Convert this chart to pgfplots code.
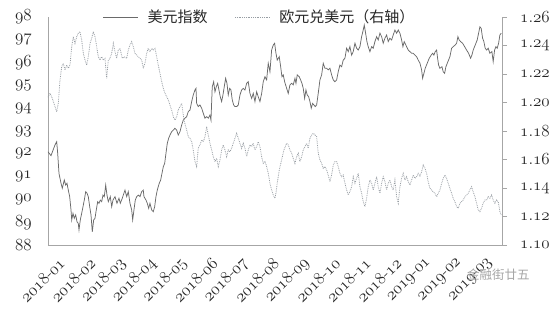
\RequirePackage{fix-cm}
\documentclass[border=0pt]{standalone}
\usepackage{pgfplots}
\pgfplotsset{compat=1.18}
\usepackage{fontspec}
\newfontfamily\cjk{Noto Sans CJK SC}
\newcommand{\os}[1]{$\mathnormal{#1}$}
\definecolor{axgray}{HTML}{A6A6A6}
\definecolor{dxy}{HTML}{6A6A6A}
\definecolor{eur}{HTML}{979DA3}
\definecolor{txt}{HTML}{262626}
\begin{document}
\begin{tikzpicture}
\path[use as bounding box] (0,0) rectangle (550pt,311pt);
\pgfplotsset{
  base/.style={
    scale only axis, width=454pt, height=228pt,
    at={(48pt,66pt)}, anchor=south west,
    xmin=0, xmax=14.84,
    every tick label/.append style={font=\fontsize{17}{20}\selectfont, text=txt, inner sep=0pt},
    axis line style={axgray, line width=0.8pt},
  }
}
\begin{axis}[base,
  axis x line*=bottom, axis y line*=left,
  ymin=88, ymax=98,
  ytick={88,...,98},
  yticklabels={\os{88},\os{89},\os{90},\os{91},\os{92},\os{93},\os{94},\os{95},\os{96},\os{97},\os{98}},
  yticklabel style={anchor=east, xshift=-16pt},
  ytick style={draw=none},
  xtick={0,...,14},
  xticklabels={\os{2018}-\os{01},\os{2018}-\os{02},\os{2018}-\os{03},\os{2018}-\os{04},\os{2018}-\os{05},\os{2018}-\os{06},\os{2018}-\os{07},\os{2018}-\os{08},\os{2018}-\os{09},\os{2018}-\os{10},\os{2018}-\os{11},\os{2018}-\os{12},\os{2019}-\os{01},\os{2019}-\os{02},\os{2019}-\os{03}},
  xticklabel style={rotate=45, anchor=east, xshift=-1pt, yshift=-21pt},
  xtick style={draw=none},
]
\addplot[dxy, line width=0.75pt, mark=none] coordinates {
(0.000,92.09)(0.098,91.92)(0.229,92.39)(0.284,92.53)(0.317,92.02)(0.359,91.14)(0.425,90.71)(0.467,90.49)(0.533,90.85)(0.578,90.63)(0.621,90.71)(0.663,90.41)(0.709,90.12)(0.752,89.54)(0.775,89.10)(0.817,89.39)(0.859,89.17)(0.905,89.32)(0.948,89.02)(0.990,88.95)(1.013,88.66)(1.056,89.10)(1.101,89.39)(1.144,89.68)(1.186,89.97)(1.232,90.34)(1.275,90.27)(1.317,90.12)(1.363,89.68)(1.405,89.32)(1.448,88.58)(1.493,89.10)(1.536,89.17)(1.578,89.54)(1.624,89.90)(1.667,89.83)(1.709,89.97)(1.755,89.90)(1.797,90.19)(1.840,90.12)(1.886,90.63)(1.928,90.19)(1.971,89.90)(2.036,90.12)(2.082,89.68)(2.124,89.97)(2.190,90.12)(2.255,89.83)(2.320,90.05)(2.363,89.83)(2.428,90.05)(2.461,90.19)(2.516,90.41)(2.572,90.12)(2.624,90.34)(2.680,89.83)(2.735,89.54)(2.768,89.10)(2.810,89.54)(2.853,89.97)(2.899,90.12)(2.951,90.19)(3.007,90.12)(3.062,90.34)(3.114,90.41)(3.137,90.12)(3.203,89.97)(3.245,89.83)(3.291,89.61)(3.333,89.83)(3.389,89.54)(3.441,89.46)(3.487,89.68)(3.529,90.12)(3.572,90.41)(3.637,90.71)(3.683,90.85)(3.725,91.14)(3.768,91.43)(3.814,91.58)(3.856,92.02)(3.899,92.46)(3.944,92.68)(3.987,92.82)(4.042,92.97)(4.095,93.04)(4.150,93.12)(4.206,93.04)(4.258,92.82)(4.314,92.97)(4.369,93.26)(4.422,93.48)(4.477,93.56)(4.533,93.63)(4.585,93.85)(4.641,93.92)(4.696,94.29)(4.748,94.58)(4.804,94.80)(4.837,94.87)(4.859,94.21)(4.912,94.07)(4.967,94.14)(5.023,94.00)(5.075,93.78)(5.131,93.56)(5.186,93.63)(5.239,93.56)(5.294,93.70)(5.327,93.48)(5.369,94.94)(5.415,95.16)(5.458,94.72)(5.500,94.94)(5.546,95.09)(5.588,94.80)(5.631,94.50)(5.676,94.29)(5.719,94.58)(5.761,94.94)(5.807,95.31)(5.850,95.09)(5.892,94.58)(5.938,94.87)(5.980,94.80)(6.023,94.36)(6.069,94.14)(6.111,94.07)(6.167,94.07)(6.219,94.14)(6.275,94.58)(6.330,94.80)(6.382,94.87)(6.438,94.80)(6.493,95.09)(6.546,95.16)(6.601,94.65)(6.657,94.43)(6.709,94.65)(6.765,94.29)(6.820,94.72)(6.873,94.50)(6.928,94.29)(6.984,94.65)(7.036,95.16)(7.092,95.38)(7.147,95.24)(7.199,95.97)(7.255,95.60)(7.310,96.55)(7.363,96.77)(7.408,96.85)(7.451,96.41)(7.493,96.11)(7.559,96.26)(7.605,95.82)(7.647,95.38)(7.690,95.46)(7.735,95.16)(7.801,94.87)(7.853,94.65)(7.908,95.02)(7.964,95.09)(8.016,95.02)(8.072,95.31)(8.105,95.09)(8.147,95.46)(8.212,95.38)(8.258,95.24)(8.301,95.09)(8.343,94.87)(8.389,94.43)(8.431,94.80)(8.474,94.58)(8.520,94.50)(8.562,94.29)(8.605,94.00)(8.650,94.21)(8.693,94.14)(8.735,94.07)(8.781,94.14)(8.833,94.65)(8.889,95.24)(8.944,95.46)(8.997,95.97)(9.052,95.75)(9.108,95.75)(9.160,95.68)(9.216,95.75)(9.271,95.46)(9.324,95.24)(9.379,95.16)(9.435,95.24)(9.487,95.60)(9.542,95.89)(9.598,95.82)(9.650,96.11)(9.706,96.19)(9.761,96.63)(9.814,96.48)(9.869,96.70)(9.925,96.33)(9.977,96.48)(10.033,96.85)(10.088,96.63)(10.141,96.55)(10.196,96.70)(10.252,97.14)(10.304,97.43)(10.337,97.65)(10.382,97.29)(10.425,96.92)(10.467,96.70)(10.523,96.48)(10.578,96.70)(10.631,96.63)(10.686,96.92)(10.742,97.14)(10.794,96.99)(10.850,97.29)(10.905,97.14)(10.958,96.85)(11.013,97.07)(11.069,97.21)(11.121,96.92)(11.176,97.07)(11.232,96.99)(11.284,97.21)(11.340,97.43)(11.395,97.29)(11.448,97.43)(11.503,97.29)(11.559,96.99)(11.601,96.70)(11.644,96.92)(11.722,96.70)(11.775,96.55)(11.830,96.48)(11.886,96.41)(11.938,96.41)(11.993,96.33)(12.049,96.26)(12.101,96.11)(12.157,95.98)(12.212,95.68)(12.245,95.31)(12.288,95.53)(12.330,95.75)(12.395,95.97)(12.461,96.19)(12.526,96.33)(12.572,96.41)(12.614,96.33)(12.657,96.48)(12.703,96.55)(12.735,96.19)(12.768,95.89)(12.810,95.75)(12.876,95.82)(12.918,95.60)(12.964,95.53)(13.007,95.82)(13.072,96.04)(13.137,96.26)(13.193,96.63)(13.245,96.70)(13.310,96.77)(13.356,96.85)(13.399,97.14)(13.441,96.99)(13.487,96.92)(13.552,96.85)(13.618,96.70)(13.683,96.55)(13.748,96.41)(13.814,96.19)(13.856,96.33)(13.899,96.55)(13.964,96.77)(14.029,96.99)(14.075,97.29)(14.118,97.57)(14.160,97.50)(14.206,97.07)(14.248,96.92)(14.291,96.63)(14.337,96.55)(14.389,96.63)(14.444,96.41)(14.510,96.48)(14.552,96.04)(14.598,96.55)(14.641,96.70)(14.683,96.63)(14.729,96.85)(14.771,97.21)(14.814,97.29)
};
\end{axis}
\begin{axis}[base,
  axis x line=none, axis y line*=right,
  ymin=1.10, ymax=1.26,
  ytick={1.10,1.12,1.14,1.16,1.18,1.20,1.22,1.24,1.26},
  yticklabels={\os{1.10},\os{1.12},\os{1.14},\os{1.16},\os{1.18},\os{1.20},\os{1.22},\os{1.24},\os{1.26}},
  yticklabel style={anchor=west, xshift=13pt},
  ytick style={axgray, line width=0.8pt},
  major tick length=5pt, tick align=outside,
  legend columns=2,
  legend style={at={(0.466,1)}, anchor=center, draw=none, fill=none,
    font=\cjk\fontsize{15}{18}\selectfont, text=txt,
    /tikz/every even column/.append style={column sep=25pt},
    inner sep=0pt},
  legend image code/.code={\draw[#1] (0pt,0pt) -- (35pt,0pt); \path (42pt,0pt);},
]
\addlegendimage{dxy, line width=0.75pt}
\addlegendentry{美元指数}
\addplot[eur, line width=0.8pt, densely dotted, mark=none] coordinates {
(0.000,1.2036)(0.065,1.2065)(0.141,1.2029)(0.229,1.1971)(0.284,1.1935)(0.337,1.1994)(0.392,1.2158)(0.448,1.2251)(0.500,1.2275)(0.556,1.2228)(0.611,1.2263)(0.663,1.2240)(0.719,1.2263)(0.775,1.2392)(0.827,1.2462)(0.882,1.2415)(0.938,1.2462)(0.990,1.2486)(1.046,1.2497)(1.101,1.2439)(1.154,1.2345)(1.209,1.2298)(1.265,1.2263)(1.317,1.2321)(1.373,1.2415)(1.428,1.2451)(1.480,1.2497)(1.536,1.2462)(1.592,1.2392)(1.644,1.2321)(1.699,1.2298)(1.755,1.2321)(1.807,1.2298)(1.863,1.2310)(1.918,1.2170)(1.971,1.2298)(2.026,1.2310)(2.082,1.2345)(2.134,1.2415)(2.190,1.2356)(2.245,1.2310)(2.297,1.2368)(2.353,1.2380)(2.428,1.2310)(2.493,1.2321)(2.572,1.2310)(2.624,1.2368)(2.680,1.2404)(2.735,1.2427)(2.788,1.2392)(2.843,1.2345)(2.899,1.2333)(2.951,1.2321)(3.007,1.2310)(3.062,1.2298)(3.114,1.2240)(3.170,1.2275)(3.225,1.2345)(3.278,1.2380)(3.333,1.2356)(3.389,1.2380)(3.441,1.2368)(3.497,1.2380)(3.552,1.2321)(3.605,1.2263)(3.660,1.2205)(3.716,1.2146)(3.768,1.2100)(3.824,1.2065)(3.879,1.2041)(3.931,1.2018)(3.987,1.1982)(4.042,1.1947)(4.095,1.1900)(4.150,1.1877)(4.206,1.1900)(4.258,1.1947)(4.314,1.1971)(4.369,1.1994)(4.402,1.1947)(4.444,1.1877)(4.487,1.1842)(4.533,1.1807)(4.585,1.1760)(4.641,1.1749)(4.696,1.1725)(4.748,1.1667)(4.804,1.1585)(4.859,1.1550)(4.912,1.1681)(4.967,1.1702)(5.023,1.1737)(5.075,1.1725)(5.131,1.1760)(5.186,1.1830)(5.239,1.1772)(5.294,1.1714)(5.350,1.1667)(5.402,1.1620)(5.458,1.1585)(5.513,1.1608)(5.565,1.1550)(5.621,1.1597)(5.676,1.1667)(5.729,1.1702)(5.784,1.1667)(5.840,1.1620)(5.892,1.1667)(5.948,1.1655)(6.003,1.1679)(6.056,1.1714)(6.111,1.1749)(6.167,1.1784)(6.219,1.1749)(6.275,1.1714)(6.330,1.1679)(6.382,1.1714)(6.438,1.1679)(6.493,1.1620)(6.546,1.1667)(6.601,1.1702)(6.657,1.1690)(6.709,1.1714)(6.765,1.1667)(6.820,1.1690)(6.873,1.1725)(6.928,1.1690)(6.984,1.1620)(7.036,1.1573)(7.092,1.1585)(7.147,1.1550)(7.199,1.1503)(7.255,1.1433)(7.310,1.1386)(7.363,1.1351)(7.418,1.1328)(7.451,1.1363)(7.493,1.1433)(7.559,1.1526)(7.637,1.1597)(7.712,1.1667)(7.801,1.1714)(7.853,1.1702)(7.908,1.1667)(7.964,1.1644)(8.016,1.1608)(8.072,1.1573)(8.127,1.1620)(8.180,1.1644)(8.235,1.1585)(8.291,1.1620)(8.343,1.1667)(8.399,1.1690)(8.454,1.1714)(8.507,1.1679)(8.562,1.1749)(8.618,1.1772)(8.670,1.1784)(8.725,1.1772)(8.781,1.1760)(8.833,1.1644)(8.889,1.1597)(8.944,1.1573)(8.997,1.1538)(9.052,1.1550)(9.108,1.1526)(9.160,1.1491)(9.216,1.1444)(9.271,1.1491)(9.324,1.1561)(9.379,1.1585)(9.435,1.1585)(9.487,1.1550)(9.542,1.1503)(9.598,1.1479)(9.650,1.1491)(9.706,1.1433)(9.761,1.1386)(9.814,1.1351)(9.869,1.1374)(9.925,1.1409)(9.977,1.1479)(10.033,1.1433)(10.088,1.1468)(10.141,1.1503)(10.196,1.1409)(10.252,1.1363)(10.304,1.1304)(10.359,1.1269)(10.415,1.1328)(10.467,1.1409)(10.523,1.1456)(10.578,1.1433)(10.631,1.1386)(10.686,1.1433)(10.742,1.1479)(10.794,1.1409)(10.850,1.1363)(10.905,1.1433)(10.958,1.1479)(11.013,1.1444)(11.069,1.1386)(11.121,1.1433)(11.176,1.1456)(11.232,1.1409)(11.284,1.1386)(11.340,1.1456)(11.395,1.1339)(11.448,1.1293)(11.503,1.1409)(11.559,1.1468)(11.611,1.1503)(11.667,1.1456)(11.722,1.1479)(11.775,1.1444)(11.830,1.1421)(11.886,1.1456)(11.938,1.1491)(11.993,1.1468)(12.049,1.1479)(12.101,1.1503)(12.157,1.1484)(12.212,1.1512)(12.265,1.1561)(12.320,1.1540)(12.376,1.1503)(12.428,1.1444)(12.484,1.1398)(12.539,1.1386)(12.591,1.1374)(12.647,1.1363)(12.703,1.1339)(12.755,1.1363)(12.810,1.1386)(12.866,1.1433)(12.918,1.1468)(12.974,1.1491)(13.029,1.1468)(13.082,1.1433)(13.137,1.1398)(13.193,1.1363)(13.245,1.1328)(13.301,1.1304)(13.356,1.1269)(13.409,1.1258)(13.464,1.1293)(13.520,1.1304)(13.572,1.1316)(13.627,1.1339)(13.683,1.1351)(13.735,1.1363)(13.791,1.1386)(13.846,1.1409)(13.899,1.1374)(13.954,1.1339)(14.010,1.1293)(14.062,1.1246)(14.118,1.1234)(14.173,1.1258)(14.225,1.1293)(14.281,1.1316)(14.337,1.1316)(14.389,1.1339)(14.444,1.1328)(14.500,1.1351)(14.552,1.1316)(14.608,1.1293)(14.663,1.1316)(14.716,1.1304)(14.771,1.1234)(14.814,1.1211)
};
\addlegendentry{欧元兑美元（右轴）}
\end{axis}
\node[anchor=west, inner sep=0pt, text=black!35, font=\cjk\fontsize{12.5}{14}\selectfont] at (467pt,36pt) {金融街廿五};
\end{tikzpicture}
\end{document}
